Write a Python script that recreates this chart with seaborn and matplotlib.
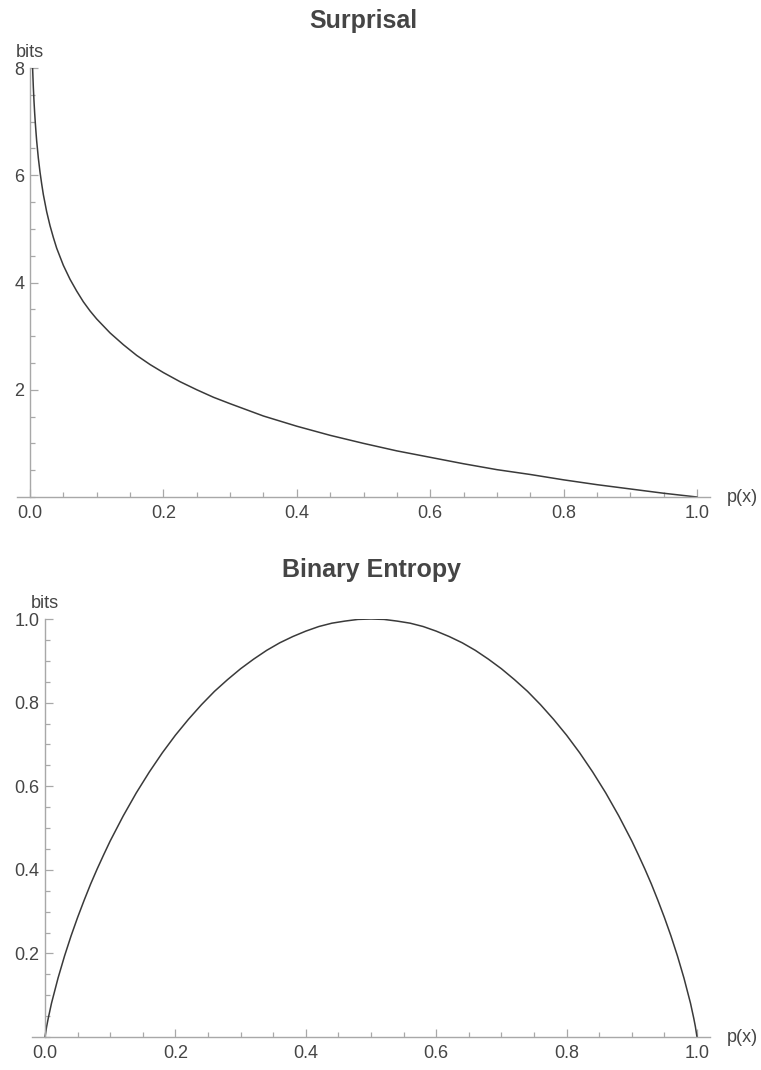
import matplotlib
matplotlib.use("Agg")
import matplotlib.pyplot as plt
import matplotlib.transforms as mtrans
import seaborn as sns
import pandas as pd
from matplotlib.ticker import MultipleLocator

sns.set_style("white")
plt.rcParams['font.family'] = ['Liberation Sans', 'DejaVu Sans']

# ---- data ----
surp_p = [0.0039, 0.0045, 0.005, 0.006, 0.007, 0.008, 0.009, 0.01, 0.0125, 0.015,
          0.0175, 0.02, 0.025, 0.03, 0.035, 0.04, 0.05, 0.06, 0.07, 0.08, 0.09,
          0.1, 0.12, 0.14, 0.16, 0.18, 0.2, 0.225, 0.25, 0.275, 0.3, 0.35, 0.4, 0.45, 0.5,
          0.55, 0.6, 0.65, 0.7, 0.75, 0.8, 0.85, 0.9, 0.95, 1.0]
surp_bits = [8.00, 7.80, 7.64, 7.38, 7.16, 6.97, 6.80, 6.64, 6.32, 6.06,
             5.84, 5.64, 5.32, 5.06, 4.84, 4.64, 4.32, 4.06, 3.84, 3.64, 3.47,
             3.32, 3.06, 2.84, 2.64, 2.47, 2.32, 2.15, 2.00, 1.86, 1.74, 1.51, 1.32, 1.15, 1.00,
             0.86, 0.74, 0.62, 0.51, 0.42, 0.32, 0.23, 0.15, 0.07, 0.00]

ent_p = [0.0, 0.0025, 0.005, 0.01, 0.02, 0.03, 0.04, 0.05, 0.06, 0.07, 0.08, 0.09,
         0.10, 0.12, 0.14, 0.16, 0.18, 0.20, 0.22, 0.24, 0.26, 0.28, 0.30, 0.32,
         0.34, 0.36, 0.38, 0.40, 0.42, 0.44, 0.46, 0.48, 0.50,
         0.52, 0.54, 0.56, 0.58, 0.60, 0.62, 0.64, 0.66, 0.68, 0.70, 0.72, 0.74,
         0.76, 0.78, 0.80, 0.82, 0.84, 0.86, 0.88, 0.90, 0.91, 0.92, 0.93, 0.94,
         0.95, 0.96, 0.97, 0.98, 0.99, 0.995, 0.9975, 1.0]
ent_bits = [0.000, 0.025, 0.045, 0.081, 0.141, 0.194, 0.242, 0.286, 0.327, 0.366, 0.402, 0.436,
            0.469, 0.529, 0.584, 0.634, 0.680, 0.722, 0.760, 0.795, 0.827, 0.855, 0.881, 0.904,
            0.925, 0.943, 0.958, 0.971, 0.982, 0.990, 0.995, 0.999, 1.000,
            0.999, 0.995, 0.990, 0.982, 0.971, 0.958, 0.943, 0.925, 0.904, 0.881, 0.855, 0.827,
            0.795, 0.760, 0.722, 0.680, 0.634, 0.584, 0.529, 0.469, 0.436, 0.402, 0.366, 0.327,
            0.286, 0.242, 0.194, 0.141, 0.081, 0.045, 0.025, 0.000]

surp_df = pd.DataFrame({"p": surp_p, "bits": surp_bits})
ent_df = pd.DataFrame({"p": ent_p, "bits": ent_bits})

W, H = 761, 1070
fig = plt.figure(figsize=(W / 100, H / 100), dpi=100)

TXT = "#454545"
AX = "#a8a8a8"
LINE = "#3a3a3a"
FS = 13


def make_axes(l_px, r_px, top_px, bot_px, x0_px, x1_px):
    ax = fig.add_axes([l_px / W, (H - bot_px) / H, (r_px - l_px) / W, (bot_px - top_px) / H])
    pad = (x0_px - l_px) / (x1_px - x0_px)
    ax.set_xlim(-pad, 1 + pad)
    return ax


def style(ax, ymax, ymajor, yminor, ylab_fmt):
    for s in ["top", "right"]:
        ax.spines[s].set_visible(False)
    ax.spines["left"].set_position(("data", 0))
    ax.spines["bottom"].set_position(("data", 0))
    ax.spines["left"].set_bounds(0, ymax)
    for s in ["left", "bottom"]:
        ax.spines[s].set_color(AX)
        ax.spines[s].set_linewidth(1.0)
    ax.set_ylim(0, ymax)
    ax.xaxis.set_major_locator(MultipleLocator(0.2))
    ax.xaxis.set_minor_locator(MultipleLocator(0.05))
    ax.yaxis.set_major_locator(MultipleLocator(ymajor))
    ax.yaxis.set_minor_locator(MultipleLocator(yminor))
    ax.tick_params(axis="both", which="both", bottom=True, left=True, top=False, right=False)
    ax.tick_params(axis="both", which="major", direction="in", length=6, width=0.9,
                   color=AX, labelcolor=TXT, labelsize=FS)
    ax.tick_params(axis="both", which="minor", direction="in", length=3.6, width=0.9,
                   color=AX)
    ax.tick_params(axis="x", which="major", pad=6)
    ax.tick_params(axis="y", which="major", pad=4)
    ax.set_xticks([0.0, 0.2, 0.4, 0.6, 0.8, 1.0])
    ax.set_xticklabels(["0.0", "0.2", "0.4", "0.6", "0.8", "1.0"])
    yt = [v for v in ax.get_yticks() if 0 < v <= ymax + 1e-9]
    ax.set_yticks(yt)
    ax.set_yticklabels([ylab_fmt.format(v) for v in yt])
    ax.set_xlabel("")
    ax.set_ylabel("")
    ax.text(0, ymax, "bits", ha="center", va="bottom", fontsize=FS, color=TXT,
            transform=mtrans.offset_copy(ax.transData, fig=fig, x=0, y=5, units="points"))
    ax.text(1.0245, 0, "p(x)", transform=ax.get_yaxis_transform(), ha="left",
            va="center", fontsize=FS, color=TXT)


# ---- Surprisal ----
ax1 = make_axes(17, 710, 68, 497, 30, 697)
sns.lineplot(data=surp_df, x="p", y="bits", ax=ax1, color=LINE, linewidth=1.1,
             sort=False, estimator=None)
style(ax1, 8, 2, 0.5, "{:.0f}")
fig.text(363.5 / W, 1 - 21 / H, "Surprisal", ha="center", va="center",
         fontsize=18, fontweight="bold", color=TXT)

# ---- Binary Entropy ----
ax2 = make_axes(32, 710, 619, 1037, 45, 697)
sns.lineplot(data=ent_df, x="p", y="bits", ax=ax2, color=LINE, linewidth=1.1,
             sort=False, estimator=None)
style(ax2, 1.0, 0.2, 0.05, "{:.1f}")
fig.text(371 / W, 1 - 570 / H, "Binary Entropy", ha="center", va="center",
         fontsize=18, fontweight="bold", color=TXT)

fig.savefig("out.png", dpi=100)
